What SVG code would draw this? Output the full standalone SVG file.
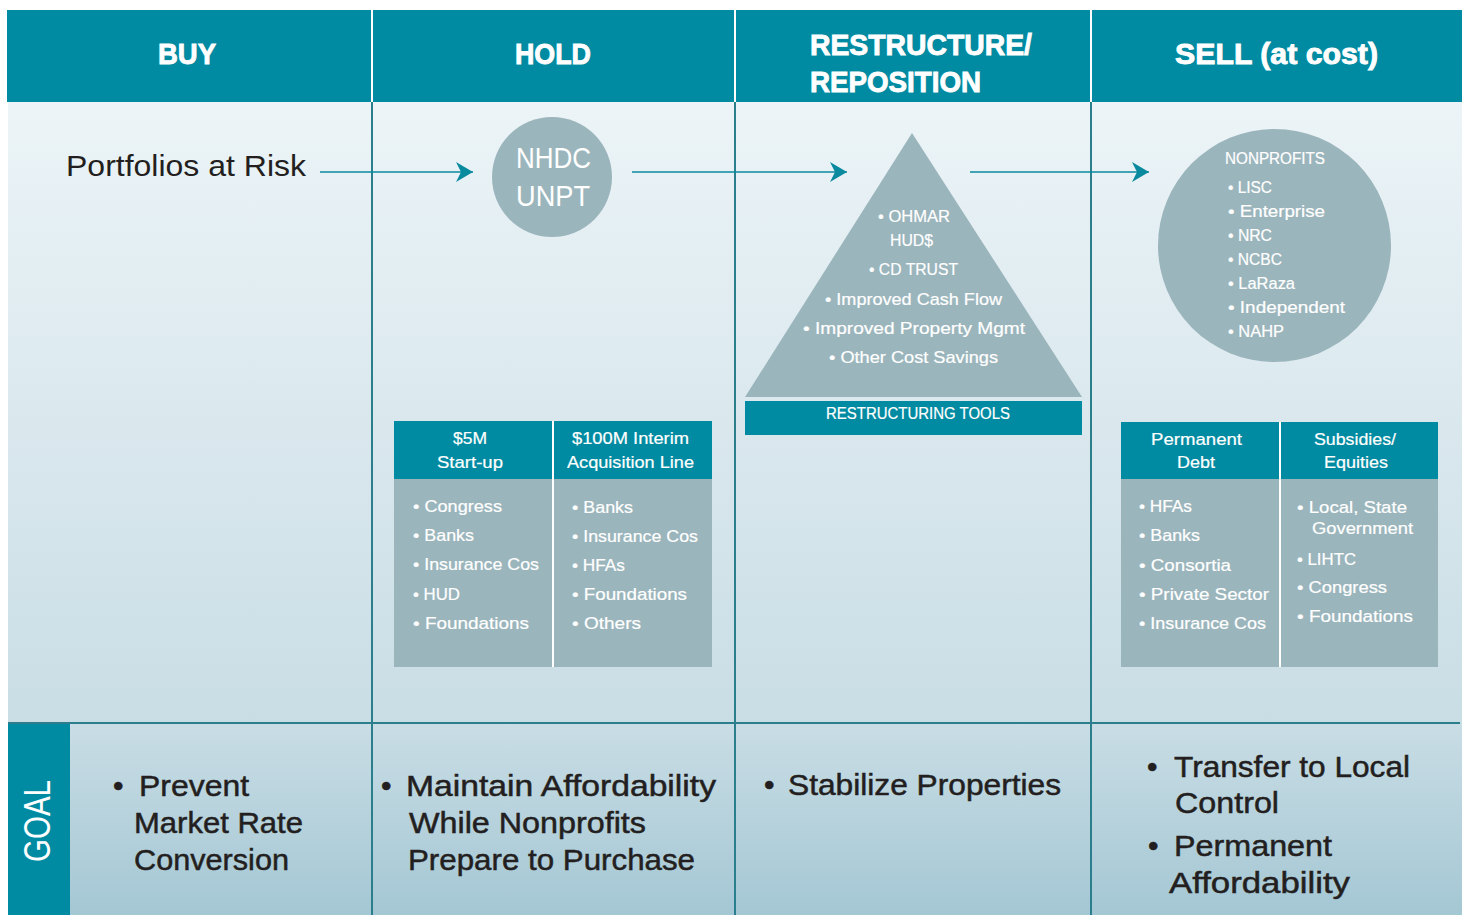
<svg xmlns="http://www.w3.org/2000/svg" width="1464" height="915" viewBox="0 0 1464 915">
<defs>
<linearGradient id="bodyGrad" x1="0" y1="0" x2="0" y2="1">
<stop offset="0" stop-color="#ecf4f7"/>
<stop offset="1" stop-color="#c9dde5"/>
</linearGradient>
<linearGradient id="goalGrad" x1="0" y1="0" x2="0" y2="1">
<stop offset="0" stop-color="#c9dde5"/>
<stop offset="1" stop-color="#a4c7d4"/>
</linearGradient>
<marker id="arrow" markerUnits="userSpaceOnUse" markerWidth="18" markerHeight="20" refX="17" refY="10" orient="auto">
<path d="M0,0 L17,10 L0,20 L5,10 Z" fill="#0a8a9f"/>
</marker>
<style>
.hdr{fill:#018ba2}
.hdrtxt{font-family:"Liberation Sans",Arial,sans-serif;font-weight:bold;font-size:30px;fill:#ffffff;stroke:#ffffff;stroke-width:0.9px}
.node{fill:#9bb5bc}
.teal{fill:#018ba2}
.wt{font-family:"Liberation Sans",Arial,sans-serif;font-size:17px;fill:#ffffff;stroke:#ffffff;stroke-width:0.2px}
.big{font-family:"Liberation Sans",Arial,sans-serif;font-size:29px}
.goal{font-family:"Liberation Sans",Arial,sans-serif;font-size:30px;fill:#231f20;stroke:#231f20;stroke-width:0.5px}
.col{stroke:#2b7f8c;stroke-width:2}
.conn{stroke:#0a8a9f;stroke-width:1.6;fill:none}
.div{stroke:#ffffff;stroke-width:2}
</style>
</defs>
<rect x="0" y="0" width="1464" height="915" fill="#ffffff"/>
<g id="background">
<rect x="8" y="102" width="1454" height="621" fill="url(#bodyGrad)"/>
<rect x="8" y="723" width="1454" height="192" fill="url(#goalGrad)"/>
<line class="col" x1="372" y1="102" x2="372" y2="915"/>
<line class="col" x1="735" y1="102" x2="735" y2="915"/>
<line class="col" x1="1091" y1="102" x2="1091" y2="915"/>
<line class="col" x1="8" y1="723" x2="1460" y2="723"/>
</g>
<g id="header">
<rect class="hdr" x="7" y="10" width="364" height="92"/>
<rect class="hdr" x="373" y="10" width="361" height="92"/>
<rect class="hdr" x="736" y="10" width="354" height="92"/>
<rect class="hdr" x="1092" y="10" width="370" height="92"/>
<text class="hdrtxt" x="158" y="64" textLength="58" lengthAdjust="spacingAndGlyphs">BUY</text>
<text class="hdrtxt" x="515" y="64" textLength="76" lengthAdjust="spacingAndGlyphs">HOLD</text>
<text class="hdrtxt" x="810" y="55" textLength="222" lengthAdjust="spacingAndGlyphs">RESTRUCTURE/</text>
<text class="hdrtxt" x="810" y="92" textLength="171" lengthAdjust="spacingAndGlyphs">REPOSITION</text>
<text class="hdrtxt" x="1175" y="64" textLength="203" lengthAdjust="spacingAndGlyphs">SELL (at cost)</text>
</g>
<g id="connectors">
<line class="conn" x1="320" y1="172" x2="473" y2="172" marker-end="url(#arrow)"/>
<line class="conn" x1="632" y1="172" x2="847" y2="172" marker-end="url(#arrow)"/>
<line class="conn" x1="970" y1="172" x2="1149" y2="172" marker-end="url(#arrow)"/>
</g>
<g id="portfolios">
<text class="big" x="66" y="176" fill="#231f20" textLength="240" lengthAdjust="spacingAndGlyphs">Portfolios at Risk</text>
</g>
<g id="nhdc">
<circle class="node" cx="552" cy="177" r="60"/>
<text class="big" x="516" y="168" fill="#ffffff" textLength="75" lengthAdjust="spacingAndGlyphs">NHDC</text>
<text class="big" x="516" y="206" fill="#ffffff" textLength="74" lengthAdjust="spacingAndGlyphs">UNPT</text>
</g>
<g id="restructuring">
<polygon class="node" points="912,133 1082,397 745,397"/>
<rect class="teal" x="745" y="401" width="337" height="34"/>
<text class="wt" x="878" y="222" textLength="72" lengthAdjust="spacingAndGlyphs">• OHMAR</text>
<text class="wt" x="890" y="246" textLength="43" lengthAdjust="spacingAndGlyphs">HUD$</text>
<text class="wt" x="869" y="275" textLength="89" lengthAdjust="spacingAndGlyphs">• CD TRUST</text>
<text class="wt" x="825" y="305" textLength="177" lengthAdjust="spacingAndGlyphs">• Improved Cash Flow</text>
<text class="wt" x="803" y="334" textLength="222" lengthAdjust="spacingAndGlyphs">• Improved Property Mgmt</text>
<text class="wt" x="829" y="363" textLength="169" lengthAdjust="spacingAndGlyphs">• Other Cost Savings</text>
<text class="wt" x="826" y="419" textLength="184" lengthAdjust="spacingAndGlyphs">RESTRUCTURING TOOLS</text>
</g>
<g id="nonprofits">
<circle class="node" cx="1274.5" cy="245.5" r="116.5"/>
<text class="wt" x="1225" y="164" textLength="100" lengthAdjust="spacingAndGlyphs">NONPROFITS</text>
<text class="wt" x="1228" y="193" textLength="44" lengthAdjust="spacingAndGlyphs">• LISC</text>
<text class="wt" x="1228" y="217" textLength="97" lengthAdjust="spacingAndGlyphs">• Enterprise</text>
<text class="wt" x="1228" y="241" textLength="44" lengthAdjust="spacingAndGlyphs">• NRC</text>
<text class="wt" x="1228" y="265" textLength="54" lengthAdjust="spacingAndGlyphs">• NCBC</text>
<text class="wt" x="1228" y="289" textLength="67" lengthAdjust="spacingAndGlyphs">• LaRaza</text>
<text class="wt" x="1228" y="313" textLength="117" lengthAdjust="spacingAndGlyphs">• Independent</text>
<text class="wt" x="1228" y="337" textLength="56" lengthAdjust="spacingAndGlyphs">• NAHP</text>
</g>
<g id="hold-table">
<rect class="teal" x="394" y="421" width="318" height="58"/>
<rect class="node" x="394" y="479" width="318" height="188"/>
<line class="div" x1="553" y1="421" x2="553" y2="667"/>
<text class="wt" x="453" y="444" textLength="34" lengthAdjust="spacingAndGlyphs">$5M</text>
<text class="wt" x="437" y="468" textLength="66" lengthAdjust="spacingAndGlyphs">Start-up</text>
<text class="wt" x="572" y="444" textLength="117" lengthAdjust="spacingAndGlyphs">$100M Interim</text>
<text class="wt" x="567" y="468" textLength="127" lengthAdjust="spacingAndGlyphs">Acquisition Line</text>
<text class="wt" x="413" y="512" textLength="89" lengthAdjust="spacingAndGlyphs">• Congress</text>
<text class="wt" x="413" y="541" textLength="61" lengthAdjust="spacingAndGlyphs">• Banks</text>
<text class="wt" x="413" y="570" textLength="126" lengthAdjust="spacingAndGlyphs">• Insurance Cos</text>
<text class="wt" x="413" y="600" textLength="47" lengthAdjust="spacingAndGlyphs">• HUD</text>
<text class="wt" x="413" y="629" textLength="116" lengthAdjust="spacingAndGlyphs">• Foundations</text>
<text class="wt" x="572" y="513" textLength="61" lengthAdjust="spacingAndGlyphs">• Banks</text>
<text class="wt" x="572" y="542" textLength="126" lengthAdjust="spacingAndGlyphs">• Insurance Cos</text>
<text class="wt" x="572" y="571" textLength="53" lengthAdjust="spacingAndGlyphs">• HFAs</text>
<text class="wt" x="572" y="600" textLength="115" lengthAdjust="spacingAndGlyphs">• Foundations</text>
<text class="wt" x="572" y="629" textLength="69" lengthAdjust="spacingAndGlyphs">• Others</text>
</g>
<g id="sell-table">
<rect class="teal" x="1121" y="422" width="317" height="57"/>
<rect class="node" x="1121" y="479" width="317" height="188"/>
<line class="div" x1="1280" y1="422" x2="1280" y2="667"/>
<text class="wt" x="1151" y="445" textLength="91" lengthAdjust="spacingAndGlyphs">Permanent</text>
<text class="wt" x="1177" y="468" textLength="38" lengthAdjust="spacingAndGlyphs">Debt</text>
<text class="wt" x="1314" y="445" textLength="82" lengthAdjust="spacingAndGlyphs">Subsidies/</text>
<text class="wt" x="1324" y="468" textLength="64" lengthAdjust="spacingAndGlyphs">Equities</text>
<text class="wt" x="1139" y="512" textLength="53" lengthAdjust="spacingAndGlyphs">• HFAs</text>
<text class="wt" x="1139" y="541" textLength="61" lengthAdjust="spacingAndGlyphs">• Banks</text>
<text class="wt" x="1139" y="571" textLength="92" lengthAdjust="spacingAndGlyphs">• Consortia</text>
<text class="wt" x="1139" y="600" textLength="130" lengthAdjust="spacingAndGlyphs">• Private Sector</text>
<text class="wt" x="1139" y="629" textLength="127" lengthAdjust="spacingAndGlyphs">• Insurance Cos</text>
<text class="wt" x="1297" y="513" textLength="110" lengthAdjust="spacingAndGlyphs">• Local, State</text>
<text class="wt" x="1312" y="534" textLength="101" lengthAdjust="spacingAndGlyphs">Government</text>
<text class="wt" x="1297" y="565" textLength="59" lengthAdjust="spacingAndGlyphs">• LIHTC</text>
<text class="wt" x="1297" y="593" textLength="90" lengthAdjust="spacingAndGlyphs">• Congress</text>
<text class="wt" x="1297" y="622" textLength="116" lengthAdjust="spacingAndGlyphs">• Foundations</text>
</g>
<g id="goal-label">
<rect class="teal" x="8" y="724" width="62" height="191"/>
<text transform="translate(50,821) rotate(-90)" x="0" y="0" text-anchor="middle" font-family="Liberation Sans, Arial, sans-serif" font-size="37" fill="#ffffff" textLength="82" lengthAdjust="spacingAndGlyphs">GOAL</text>
</g>
<g id="goal-buy">
<text class="goal" x="113" y="796">•</text>
<text class="goal" x="139" y="796" textLength="110" lengthAdjust="spacingAndGlyphs">Prevent</text>
<text class="goal" x="134" y="833" textLength="169" lengthAdjust="spacingAndGlyphs">Market Rate</text>
<text class="goal" x="134" y="870" textLength="155" lengthAdjust="spacingAndGlyphs">Conversion</text>
</g>
<g id="goal-hold">
<text class="goal" x="381" y="796">•</text>
<text class="goal" x="406" y="796" textLength="310" lengthAdjust="spacingAndGlyphs">Maintain Affordability</text>
<text class="goal" x="409" y="833" textLength="237" lengthAdjust="spacingAndGlyphs">While Nonprofits</text>
<text class="goal" x="408" y="870" textLength="287" lengthAdjust="spacingAndGlyphs">Prepare to Purchase</text>
</g>
<g id="goal-restructure">
<text class="goal" x="764" y="795">•</text>
<text class="goal" x="788" y="795" textLength="273" lengthAdjust="spacingAndGlyphs">Stabilize Properties</text>
</g>
<g id="goal-sell">
<text class="goal" x="1147" y="777">•</text>
<text class="goal" x="1174" y="777" textLength="236" lengthAdjust="spacingAndGlyphs">Transfer to Local</text>
<text class="goal" x="1175" y="813" textLength="104" lengthAdjust="spacingAndGlyphs">Control</text>
<text class="goal" x="1148" y="856">•</text>
<text class="goal" x="1174" y="856" textLength="158" lengthAdjust="spacingAndGlyphs">Permanent</text>
<text class="goal" x="1169" y="893" textLength="181" lengthAdjust="spacingAndGlyphs">Affordability</text>
</g>
</svg>
